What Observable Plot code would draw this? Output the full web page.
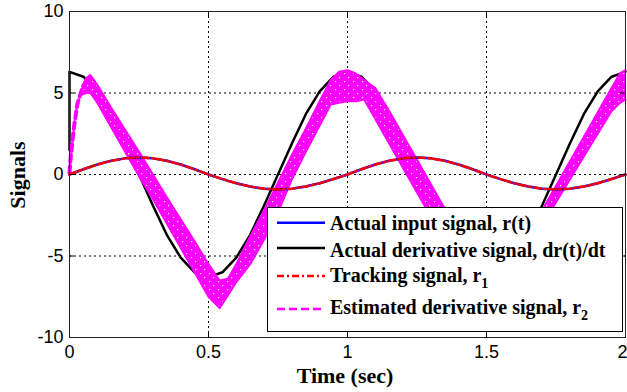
<!DOCTYPE html>
<html><head><meta charset="utf-8">
<script src="https://cdn.jsdelivr.net/npm/d3@7"></script>
<script src="https://cdn.jsdelivr.net/npm/@observablehq/plot@0.6"></script>
<style>html,body{margin:0;padding:0;background:#fff;overflow:hidden}</style>
</head><body><div id="chart"></div>
<script>
// ---- data ----
const time = [0,0.05,0.1,0.15,0.2,0.25,0.3,0.35,0.4,0.45,0.5,0.55,0.6,0.65,0.7,0.75,0.8,0.85,0.9,0.95,
              1,1.05,1.1,1.15,1.2,1.25,1.3,1.35,1.4,1.45,1.5,1.55,1.6,1.65,1.7,1.75,1.8,1.85,1.9,1.95,2];
const rActual = [0,0.32,0.61,0.84,0.99,1.05,0.99,0.84,0.61,0.32,0,-0.28,-0.54,-0.74,-0.87,-0.92,-0.87,-0.74,-0.54,-0.28,
                 0,0.32,0.61,0.84,0.99,1.05,0.99,0.84,0.61,0.32,0,-0.28,-0.54,-0.74,-0.87,-0.92,-0.87,-0.74,-0.54,-0.28,0];
const r1Tracking = [0,0.32,0.61,0.84,0.99,1.05,0.99,0.84,0.61,0.32,0,-0.28,-0.54,-0.74,-0.87,-0.92,-0.87,-0.74,-0.54,-0.28,
                    0,0.32,0.61,0.84,0.99,1.05,0.99,0.84,0.61,0.32,0,-0.28,-0.54,-0.74,-0.87,-0.92,-0.87,-0.74,-0.54,-0.28,0];
const drActual = [6.3,6.0,5.1,3.7,1.9,0,-1.9,-3.7,-5.1,-6.0,-6.3,-6.0,-5.1,-3.7,-1.9,0,1.9,3.7,5.1,6.0,
                  6.3,6.0,5.1,3.7,1.9,0,-1.9,-3.7,-5.1,-6.0,-6.3,-6.0,-5.1,-3.7,-1.9,0,1.9,3.7,5.1,6.0,6.3];
const drStartTime = [0];
const drStartValue = [1.5];

// estimated derivative r2: dashed start, then a dense chattering band
const r2StartTime = [0,0.004,0.016,0.028,0.046];
const r2StartValue = [0.1,1.0,2.9,4.3,5.3];
const r2Time = [0.045,0.06,0.075,0.1,0.15,0.2,0.25,0.3,0.35,0.4,0.45,0.5,0.54,0.57,0.6,0.65,0.7,0.75,0.8,0.85,0.9,0.94,0.97,
                1.0,1.03,1.06,1.1,1.15,1.2,1.25,1.3,1.35,1.4,1.45,1.5,1.526,1.55,1.6,1.65,1.7,1.75,1.8,1.85,1.9,1.95,1.98,2.0];
const r2High = [5.4,5.9,6.1,5.5,4.1,2.75,1.4,0,-1.4,-2.75,-4.1,-5.5,-6.5,-6.4,-5.5,-3.8,-2.2,-0.5,1.2,2.8,4.5,5.8,6.3,
                6.4,6.2,5.8,5.3,3.9,2.4,0.9,-0.6,-2.1,-3.6,-5.1,-6.6,-7.4,-6.7,-5.2,-3.7,-2.2,-0.7,0.8,2.3,3.8,5.3,6.2,6.4];
const r2Low = [4.9,5.0,5.0,4.4,2.9,1.4,-0.1,-1.5,-3.0,-4.5,-6.0,-7.5,-8.2,-7.4,-6.6,-5.5,-4.0,-2.3,-0.3,1.4,3.0,4.3,4.4,
               4.5,4.5,4.6,3.4,1.9,0.4,-1.1,-2.6,-4.1,-5.6,-7.1,-8.6,-7.9,-7.2,-5.8,-4.4,-3.1,-1.7,-0.3,1.1,2.5,3.9,4.4,4.6];

const xTicks = [0,0.5,1,1.5,2];
const yTicks = [-10,-5,0,5,10];
const xTickLabels = ["0","0.5","1","1.5","2"];
const yTickLabels = ["-10","-5","0","5","10"];
const xGrid = [0.5,1,1.5];
const yGrid = [-5,0,5];
const xLabel = "Time (sec)";
const yLabel = "Signals";
const legendLabels = ["Actual input signal, r(t)","Actual derivative signal, dr(t)/dt","Tracking signal, r","Estimated derivative signal, r"];
const legendSubs = ["","","1","2"];

// ---- build tables ----
const blackData = drStartTime.map((t,i)=>({t, v: drStartValue[i]}))
  .concat(time.map((t,i)=>({t, v: drActual[i]})));
const blueData = time.map((t,i)=>({t, v: rActual[i]}));
const redData = time.map((t,i)=>({t, v: r1Tracking[i]}));
const bandData = r2Time.map((t,i)=>({t, lo: r2Low[i], hi: r2High[i]}));
const startData = r2StartTime.map((t,i)=>({t, v: r2StartValue[i]}));

const MAG = "#ff00ff";
const chart = Plot.plot({
  width: 627, height: 392,
  marginLeft: 69, marginRight: 2, marginTop: 11, marginBottom: 55,
  x: {domain: [0,2]},
  y: {domain: [-10,10]},
  style: {fontFamily: "'Liberation Sans', Arial, sans-serif", fontSize: "18px", background: "white", overflow: "visible"},
  marks: [
    Plot.ruleX(xGrid, {stroke: "black", strokeWidth: 1, strokeDasharray: "2,3"}),
    Plot.ruleY(yGrid, {stroke: "black", strokeWidth: 1, strokeDasharray: "2,3"}),
    Plot.line(blackData, {x: "t", y: "v", stroke: "black", strokeWidth: 2.5}),
    Plot.areaY(bandData, {x: "t", y1: "lo", y2: "hi", fill: MAG, className: "r2band"}),
    Plot.line(bandData, {x: "t", y: "hi", stroke: MAG, strokeWidth: 2}),
    Plot.line(bandData, {x: "t", y: "lo", stroke: MAG, strokeWidth: 2}),
    Plot.line(startData, {x: "t", y: "v", stroke: MAG, strokeWidth: 4, strokeDasharray: "7,4"}),
    Plot.line(blueData, {x: "t", y: "v", stroke: "#0000ff", strokeWidth: 2.5}),
    Plot.line(redData, {x: "t", y: "v", stroke: "#ff0000", strokeWidth: 2.5, strokeDasharray: "7,3,2,3"}),
    Plot.ruleX(xTicks, {y1: -10, y2: -9.65, stroke: "black"}),
    Plot.ruleX(xTicks, {y1: 10, y2: 9.65, stroke: "black"}),
    Plot.ruleY(yTicks, {x1: 0, x2: 0.018, stroke: "black"}),
    Plot.ruleY(yTicks, {x1: 2, x2: 1.982, stroke: "black"}),
    Plot.frame({stroke: "#222"}),
    Plot.axisX(xTicks, {tickSize: 0, tickPadding: 8, label: null, tickFormat: d => xTickLabels[xTicks.indexOf(d)]}),
    Plot.axisY(yTicks, {tickSize: 0, tickPadding: 6, label: null, tickFormat: d => yTickLabels[yTicks.indexOf(d)]})
  ]
});
document.getElementById("chart").appendChild(chart);

const svg = d3.select(chart);

// speckled texture of the chattering band
const defs = svg.insert("defs", ":first-child");
const pat = defs.append("pattern").attr("id", "speck").attr("patternUnits", "userSpaceOnUse")
  .attr("width", 9).attr("height", 8);
pat.append("rect").attr("width", 9).attr("height", 8).attr("fill", MAG);
pat.append("rect").attr("x", 2).attr("y", 1).attr("width", 1.2).attr("height", 1.2).attr("fill", "#fff");
pat.append("rect").attr("x", 6).attr("y", 5).attr("width", 1.2).attr("height", 1.2).attr("fill", "#fff");
svg.selectAll(".r2band path").attr("fill", "url(#speck)");

// keep the last x tick label inside the picture as in the reference
const xl = svg.selectAll("g[aria-label='x-axis tick label'] text");
xl.filter((d, i, n) => i === n.length - 1).attr("dx", -3);

// ---- axis titles and legend ----
const serif = "'Liberation Serif', 'Times New Roman', serif";
svg.append("text").attr("x", 345).attr("y", 383).attr("text-anchor", "middle")
  .attr("font-family", serif).attr("font-weight", "bold").attr("font-size", 22).attr("fill", "black").text(xLabel);
svg.append("text").attr("transform", "translate(25,175) rotate(-90)").attr("text-anchor", "middle")
  .attr("font-family", serif).attr("font-weight", "bold").attr("font-size", 22).attr("fill", "black").text(yLabel);

const lg = svg.append("g").attr("text-anchor", "start");
lg.append("rect").attr("x", 267.5).attr("y", 207.5).attr("width", 355).attr("height", 124)
  .attr("fill", "white").attr("stroke", "black").attr("stroke-width", 1);
const rowLineY = [222.7, 248, 276, 309];
const rowTextY = [229.5, 256.5, 281.5, 314];
const rowStroke = ["#0000ff", "black", "#ff0000", MAG];
const rowDash = [null, null, "7,3,2,3", "8,4"];
legendLabels.forEach((lab, i) => {
  lg.append("line").attr("x1", 277).attr("x2", 325).attr("y1", rowLineY[i]).attr("y2", rowLineY[i])
    .attr("stroke", rowStroke[i]).attr("stroke-width", 2.5).attr("stroke-dasharray", rowDash[i]);
  const t = lg.append("text").attr("x", 330).attr("y", rowTextY[i]).attr("text-anchor", "start")
    .attr("font-family", serif).attr("font-weight", "bold").attr("font-size", 20).attr("fill", "black");
  t.append("tspan").text(lab);
  if (legendSubs[i]) t.append("tspan").attr("dy", 6).attr("font-size", 14).text(legendSubs[i]);
});
</script>
</body></html>
